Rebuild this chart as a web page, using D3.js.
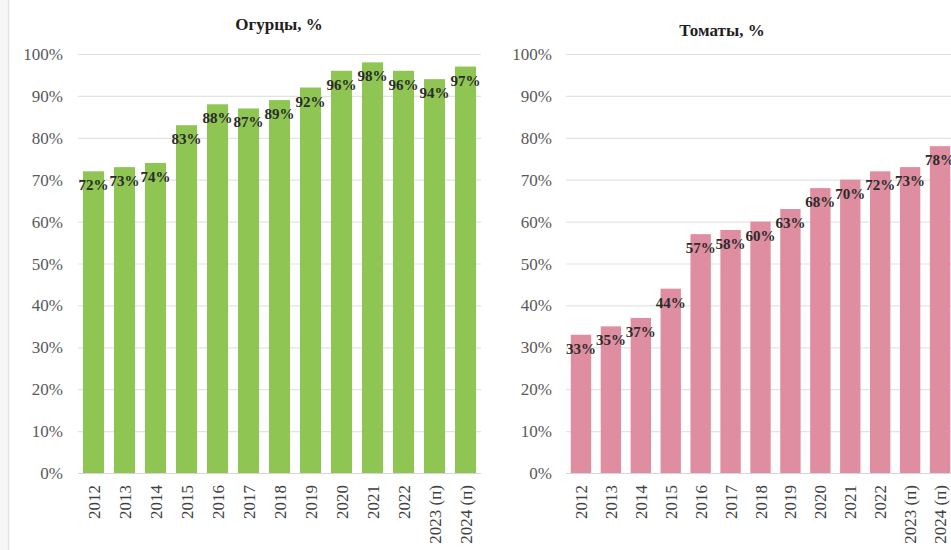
<!DOCTYPE html>
<html><head><meta charset="utf-8">
<script src="https://cdn.jsdelivr.net/npm/d3@7"></script>
<style>html,body{margin:0;padding:0;background:#fff;}svg{display:block;}</style>
</head><body>
<svg id="c" width="951" height="550"></svg>
<script>
const years = ["2012","2013","2014","2015","2016","2017","2018","2019","2020","2021","2022","2023 (п)","2024 (п)"];
const cucumbers = [72,73,74,83,88,87,89,92,96,98,96,94,97];
const tomatoes = [33,35,37,44,57,58,60,63,68,70,72,73,78];
const yTicks = [0,10,20,30,40,50,60,70,80,90,100];
const titles = ["Огурцы, %","Томаты, %"];

const svg = d3.select("#c");
svg.append("rect").attr("x",0).attr("y",0).attr("width",951).attr("height",550).attr("fill","#fff");
svg.append("rect").attr("x",0).attr("y",0).attr("width",8).attr("height",550).attr("fill","#f7f7f7");
svg.append("line").attr("x1",8.5).attr("x2",8.5).attr("y1",0).attr("y2",550).attr("stroke","#e2e2e2").attr("stroke-width",1.5);

const serif = "'Liberation Serif','Times New Roman',serif";
const y = d3.scaleLinear().domain([0,100]).range([473,54]);

function panel(cfg){
  const g = svg.append("g");
  const x = d3.scaleBand().domain(years).range([cfg.x0, cfg.x1]).paddingInner(0.32).paddingOuter(0.16);
  // gridlines
  g.selectAll("line.grid").data(yTicks.filter(d=>d>0)).join("line")
    .attr("x1",cfg.x0).attr("x2",cfg.gx1).attr("y1",d=>y(d)+0.5).attr("y2",d=>y(d)+0.5)
    .attr("stroke","#e3e3e3").attr("stroke-width",1.2);
  // y tick labels
  g.selectAll("text.yt").data(yTicks).join("text")
    .attr("x",cfg.ylab).attr("y",d=>y(d)+6)
    .attr("text-anchor","end").attr("font-family",serif).attr("font-size",17).attr("fill","#595959")
    .text(d=>d+"%");
  // bars
  g.selectAll("rect.bar").data(cfg.values).join("rect")
    .attr("x",(d,i)=>x(years[i])).attr("width",x.bandwidth())
    .attr("y",d=>y(d)).attr("height",d=>y(0)-y(d)).attr("fill",cfg.color);
  // axis line
  g.append("line").attr("x1",cfg.x0).attr("x2",cfg.gx1).attr("y1",y(0)+0.5).attr("y2",y(0)+0.5)
    .attr("stroke","#d6d6d6").attr("stroke-width",1.2);
  // x labels
  g.selectAll("text.xt").data(years).join("text")
    .attr("transform",d=>`translate(${x(d)+x.bandwidth()/2+6},485) rotate(-90)`)
    .attr("text-anchor","end").attr("font-family",serif).attr("font-size",17).attr("fill","#404040")
    .text(d=>d);
  // data labels
  g.selectAll("text.dl").data(cfg.values).join("text")
    .attr("x",(d,i)=>x(years[i])+x.bandwidth()/2).attr("y",d=>y(d)+19)
    .attr("text-anchor","middle").attr("font-family",serif).attr("font-weight","bold")
    .attr("font-size",15).attr("fill","#2b2b2b")
    .text(d=>d+"%");
  // title
  g.append("text").attr("x",cfg.tx).attr("y",cfg.ty).attr("text-anchor","middle")
    .attr("font-family",serif).attr("font-weight","bold").attr("font-size",17).attr("fill","#1e1e1e")
    .text(cfg.title);
}

panel({x0:78, x1:481, gx1:481, ylab:63, values:cucumbers, color:"#8fc552", title:titles[0], tx:279, ty:30});
panel({x0:566, x1:955, gx1:951, ylab:552, values:tomatoes, color:"#df8da0", title:titles[1], tx:722, ty:36});
</script>
</body></html>
